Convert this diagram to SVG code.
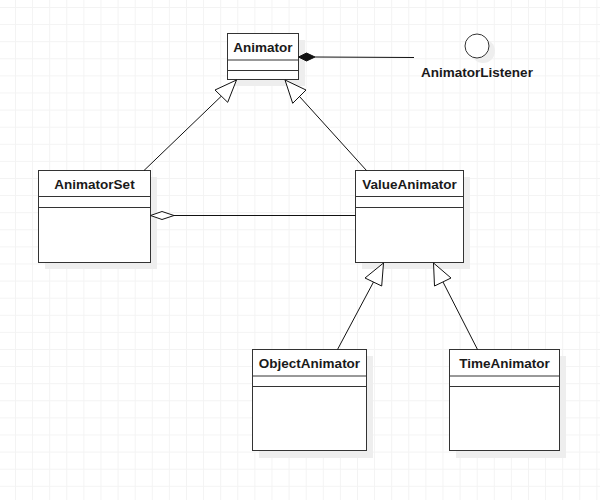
<svg xmlns="http://www.w3.org/2000/svg" width="600" height="500" viewBox="0 0 600 500">
<style>
.box{fill:#fff;stroke:#333;stroke-width:1}
.sh{fill:#eeeeee}
.sep{stroke:#333;stroke-width:1}
.t{font-family:"Liberation Sans",Arial,sans-serif;font-weight:bold;font-size:13.5px;fill:#1a1a1a;text-anchor:middle}
.ln{stroke:#111;stroke-width:1;fill:none}
.tri{fill:#fff;stroke:#111;stroke-width:1}
</style>
<defs>
<pattern id="grid" patternUnits="userSpaceOnUse" x="15" y="7" width="17.1" height="17.1">
<path d="M0.5 0V17.1M0 0.5H17.1" stroke="#f3f3f3" stroke-width="1" fill="none"/>
</pattern>
</defs>
<rect width="600" height="500" fill="#fff"/>
<rect width="600" height="500" fill="url(#grid)"/>

<g id="Animator">
<rect class="sh" x="234" y="40" width="71" height="46"/>
<rect class="box" x="227.5" y="33.5" width="71" height="46"/>
<line class="sep" x1="227.5" y1="60" x2="298.5" y2="60"/>
<line class="sep" x1="227.5" y1="70.5" x2="298.5" y2="70.5"/>
<text class="t" x="263" y="51.5">Animator</text>
</g>

<g id="AnimatorListener">
<circle cx="483" cy="51" r="12" fill="#eeeeee"/>
<circle cx="477" cy="46" r="12" fill="#fff" stroke="#333"/>
<text class="t" x="477" y="76.5">AnimatorListener</text>
</g>

<g id="AnimatorSet">
<rect class="sh" x="45" y="177" width="112" height="92"/>
<rect class="box" x="38.5" y="170.5" width="112" height="92"/>
<line class="sep" x1="38.5" y1="196.5" x2="150.5" y2="196.5"/>
<line class="sep" x1="38.5" y1="207.5" x2="150.5" y2="207.5"/>
<text class="t" x="94.5" y="189">AnimatorSet</text>
</g>

<g id="ValueAnimator">
<rect class="sh" x="362" y="177" width="108" height="92"/>
<rect class="box" x="355.5" y="170.5" width="108" height="92"/>
<line class="sep" x1="355.5" y1="196.5" x2="463.5" y2="196.5"/>
<line class="sep" x1="355.5" y1="207.5" x2="463.5" y2="207.5"/>
<text class="t" x="409.5" y="189">ValueAnimator</text>
</g>

<g id="ObjectAnimator">
<rect class="sh" x="259" y="356" width="114" height="102"/>
<rect class="box" x="252.5" y="349.5" width="114" height="101"/>
<line class="sep" x1="252.5" y1="376" x2="366.5" y2="376"/>
<line class="sep" x1="252.5" y1="386.5" x2="366.5" y2="386.5"/>
<text class="t" x="309.5" y="368">ObjectAnimator</text>
</g>

<g id="TimeAnimator">
<rect class="sh" x="456" y="356" width="110" height="102"/>
<rect class="box" x="449.5" y="349.5" width="110" height="101"/>
<line class="sep" x1="449.5" y1="376" x2="559.5" y2="376"/>
<line class="sep" x1="449.5" y1="386.5" x2="559.5" y2="386.5"/>
<text class="t" x="504.5" y="368">TimeAnimator</text>
</g>

<g id="connectors">
<line class="ln" x1="315" y1="57" x2="414" y2="57.5"/>
<polygon points="298.5,57 306.5,53 315,57 306.5,61" fill="#111" stroke="#111"/>
<line class="ln" x1="174" y1="215.5" x2="355.5" y2="215.5"/>
<polygon class="tri" points="150.5,215.5 162,211.5 174,215.5 162,219.5"/>
<line class="ln" x1="144" y1="170.5" x2="221.5" y2="96"/>
<polygon class="tri" points="236.5,80 227.7,102.3 215,90"/>
<line class="ln" x1="366.5" y1="170.5" x2="299.5" y2="96.5"/>
<polygon class="tri" points="285,80 306,90 292.7,103.3"/>
<line class="ln" x1="337.5" y1="349.5" x2="373.5" y2="282"/>
<polygon class="tri" points="383.5,263 381.7,286 365,278"/>
<line class="ln" x1="477.5" y1="349.5" x2="443" y2="282"/>
<polygon class="tri" points="433.5,263 451,278 434.5,286"/>
</g>
</svg>
